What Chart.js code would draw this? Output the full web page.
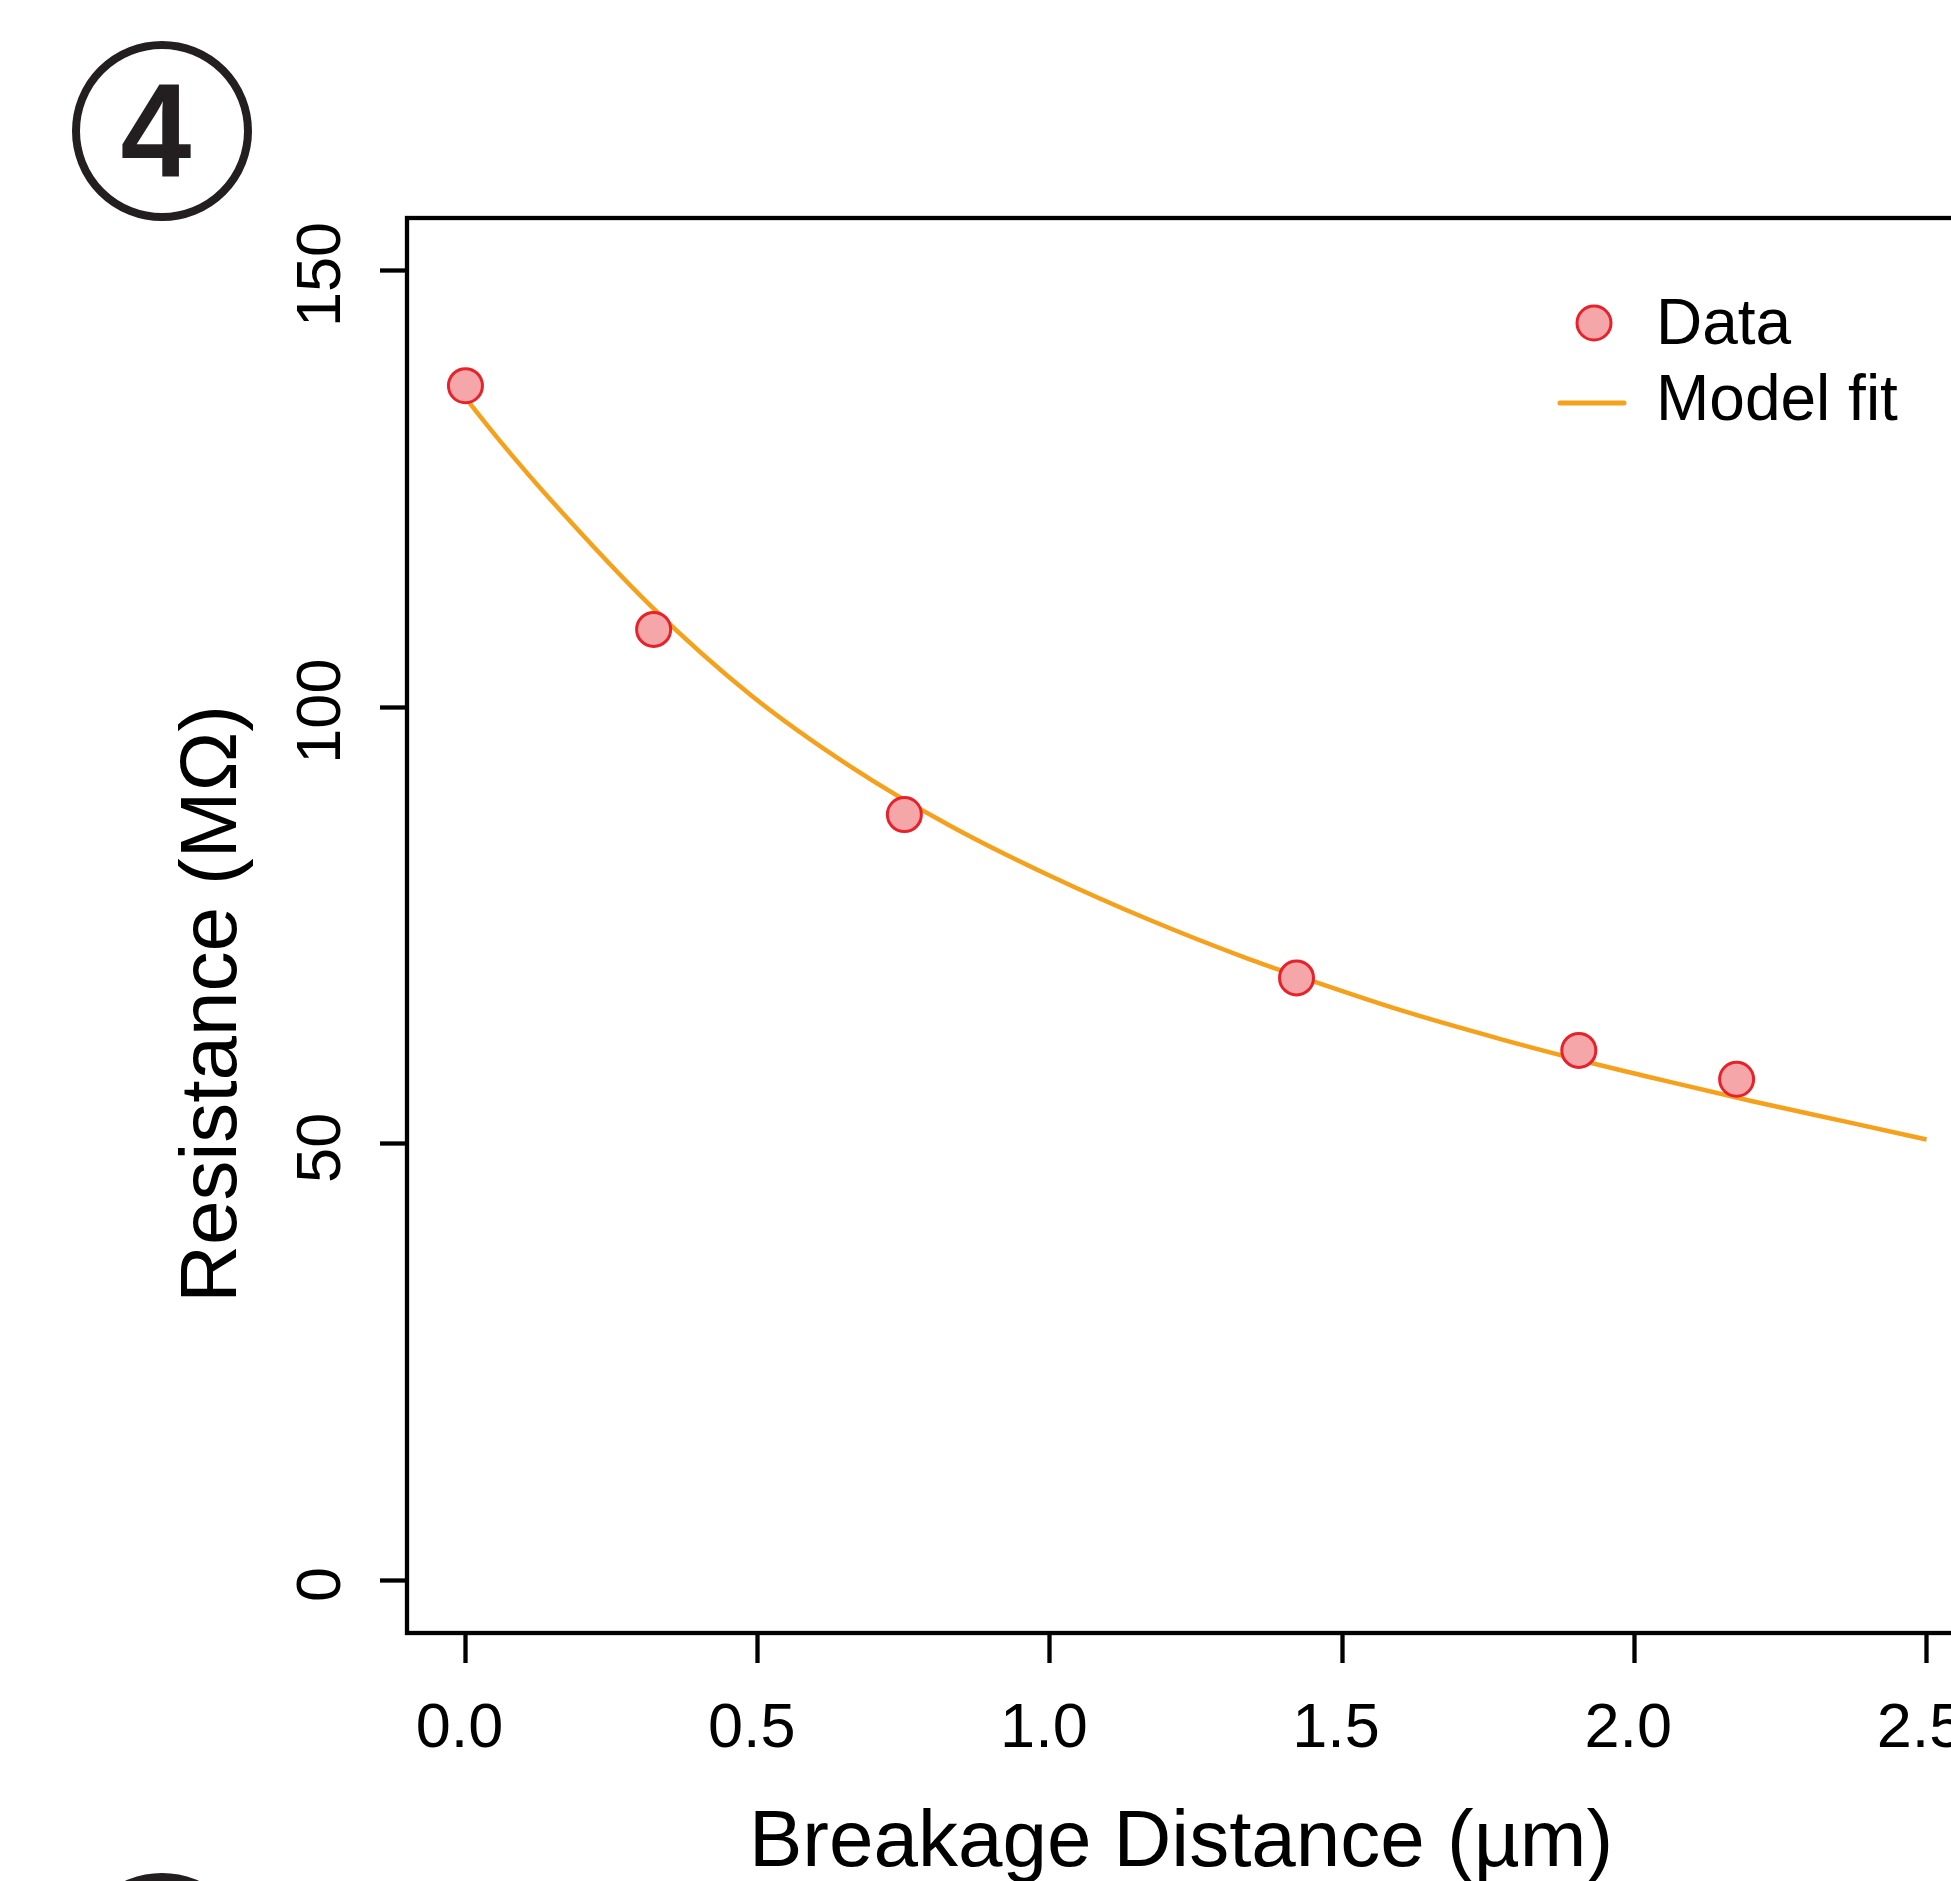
<!DOCTYPE html>
<html>
<head>
<meta charset="utf-8">
<script src="https://cdn.jsdelivr.net/npm/chart.js@4/dist/chart.umd.min.js"></script>
<style>
  html, body { margin: 0; padding: 0; background: #fff; overflow: hidden; }
  canvas { display: block; }
</style>
</head>
<body>
<canvas id="grafico" width="2100" height="1881" style="width:2100px;height:1881px"></canvas>
<script>
// tick labels
const xTicks = [0, 0.5, 1.0, 1.5, 2.0, 2.5];
const yTicks = [0, 50, 100, 150];

// measured points
const dataX = [0.00, 0.322, 0.751, 1.422, 1.905, 2.175];
const dataY = [136.8, 108.9, 87.7, 69.0, 60.7, 57.4];

// model fit curve
const fitX = [0.00, 0.06, 0.145, 0.317, 0.488, 0.659, 0.83, 1.0, 1.172, 1.343, 1.429, 1.6, 1.771, 1.942, 2.029, 2.2, 2.371, 2.5];
const fitY = [135.4, 130.4, 123.8, 111.6, 101.4, 93.2, 86.4, 80.7, 75.6, 71.1, 69.1, 65.3, 62.0, 59.0, 57.6, 54.9, 52.4, 50.5];

const nomeEixoX = 'Breakage Distance (µm)';
const nomeEixoY = 'Resistance (MΩ)';

const corPonto = '#F4A6A9';
const corBorda = '#E8222B';
const corLinha = '#F6A11C';
const fonte = '"Liberation Sans", Arial, Helvetica, sans-serif';

const desenhoExtra = {
  id: 'desenhoExtra',
  afterDraw(chart) {
    const ctx = chart.ctx;
    const a = chart.chartArea;
    const sx = chart.scales.x;
    const sy = chart.scales.y;
    ctx.save();

    // box
    ctx.strokeStyle = '#000';
    ctx.lineWidth = 4.3;
    ctx.strokeRect(a.left, a.top, a.right - a.left, a.bottom - a.top);

    ctx.fillStyle = '#000';
    ctx.font = '63px ' + fonte;

    // x tick labels
    ctx.textAlign = 'center';
    ctx.textBaseline = 'alphabetic';
    xTicks.forEach(v => {
      ctx.fillText(v.toFixed(1), sx.getPixelForValue(v) - 6, 1747);
    });

    // y tick labels (rotated)
    yTicks.forEach(v => {
      ctx.save();
      ctx.translate(340, sy.getPixelForValue(v));
      ctx.rotate(-Math.PI / 2);
      ctx.fillText(String(v), -4, 0);
      ctx.restore();
    });

    // axis titles
    ctx.font = '80px ' + fonte;
    ctx.fillText(nomeEixoX, 1181, 1866);
    ctx.save();
    ctx.translate(236, 1004);
    ctx.rotate(-Math.PI / 2);
    ctx.fillText(nomeEixoY, 0, 0);
    ctx.restore();

    // legend
    const d0 = chart.data.datasets[0];
    const d1 = chart.data.datasets[1];
    ctx.beginPath();
    ctx.arc(1594, 323, 17, 0, Math.PI * 2);
    ctx.fillStyle = d0.backgroundColor;
    ctx.fill();
    ctx.lineWidth = 3;
    ctx.strokeStyle = d0.borderColor;
    ctx.stroke();
    ctx.beginPath();
    ctx.moveTo(1560, 403);
    ctx.lineTo(1624, 403);
    ctx.lineWidth = 5;
    ctx.lineCap = 'round';
    ctx.strokeStyle = d1.borderColor;
    ctx.stroke();
    ctx.fillStyle = '#000';
    ctx.font = '64px ' + fonte;
    ctx.textAlign = 'left';
    ctx.fillText(d0.label, 1656, 344);
    ctx.fillText(d1.label, 1656, 420);

    // panel markers
    ctx.strokeStyle = '#231F20';
    ctx.lineWidth = 8;
    ctx.beginPath();
    ctx.arc(162, 131, 86, 0, Math.PI * 2);
    ctx.stroke();
    ctx.beginPath();
    ctx.arc(162, 1963, 86, 0, Math.PI * 2);
    ctx.stroke();
    ctx.fillStyle = '#231F20';
    ctx.font = 'bold 134px ' + fonte;
    ctx.textAlign = 'center';
    ctx.save();
    ctx.translate(156, 177);
    ctx.scale(0.95, 1);
    ctx.fillText('4', 0, 0);
    ctx.restore();

    ctx.restore();
  }
};

const ctx = document.getElementById('grafico').getContext('2d');

const datasets = [];
datasets.push({
  label: 'Data',
  data: dataX.map((x, i) => ({ x, y: dataY[i] })),
  backgroundColor: corPonto,
  borderColor: corBorda,
  borderWidth: 3,
  pointRadius: 17,
  pointHoverRadius: 17,
  showLine: false
});
datasets.push({
  label: 'Model fit',
  data: fitX.map((x, i) => ({ x, y: fitY[i] })),
  borderColor: corLinha,
  backgroundColor: corLinha,
  borderWidth: 4.5,
  pointRadius: 0,
  showLine: true,
  fill: false,
  cubicInterpolationMode: 'monotone'
});

const grafico = new Chart(ctx, {
  type: 'scatter',
  data: { datasets: datasets },
  options: {
    responsive: false,
    devicePixelRatio: 1,
    animation: false,
    layout: { padding: { top: 218, right: 115, left: 0, bottom: 0 } },
    plugins: {
      legend: { display: false },
      title: { display: false },
      tooltip: { enabled: false }
    },
    scales: {
      x: {
        type: 'linear',
        position: 'bottom',
        min: -0.1,
        max: 2.6,
        afterBuildTicks: s => { s.ticks = xTicks.map(v => ({ value: v })); },
        afterFit: s => { s.height = 248; },
        ticks: { display: false },
        grid: { drawOnChartArea: false, drawTicks: true, tickLength: 30, tickWidth: 4.3, tickColor: '#000' },
        border: { display: false }
      },
      y: {
        min: -6,
        max: 156,
        afterBuildTicks: s => { s.ticks = yTicks.map(v => ({ value: v })); },
        afterFit: s => { s.width = 407; },
        ticks: { display: false },
        grid: { drawOnChartArea: false, drawTicks: true, tickLength: 27, tickWidth: 4.3, tickColor: '#000' },
        border: { display: false }
      }
    }
  },
  plugins: [desenhoExtra]
});
</script>
</body>
</html>
